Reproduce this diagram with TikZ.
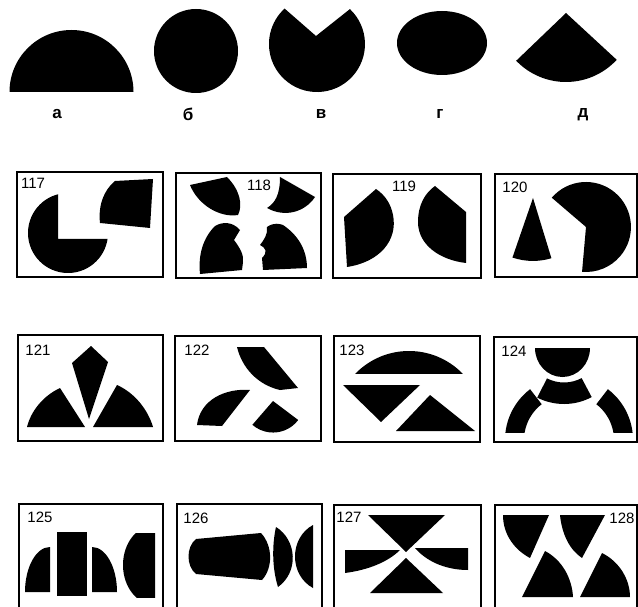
\documentclass[tikz,border=0pt]{standalone}
\usepackage{fontspec}
\setmainfont{Liberation Sans}
\begin{document}
\begin{tikzpicture}[x=1pt,y=-1pt,
  frame/.style={line width=1.9pt},
  num/.style={inner sep=0pt,font=\fontsize{15}{15}\selectfont},
  letter/.style={inner sep=0pt,font=\bfseries\fontsize{17}{17}\selectfont}]
\clip (0,0) rectangle (638,607);
% ---------- top row ----------
\fill (9.5,92) arc[start angle=180,end angle=360,radius=62] -- cycle;
\fill (196,51) circle[radius=42];
\fill (316,36) -- (349.9,9.1) arc[start angle=313.3,end angle=587.6,radius=48] -- cycle;
\fill (442,43) ellipse[x radius=45,y radius=32];
\fill (566,13) -- (616.7,59.8) arc[start angle=42.7,end angle=136.2,radius=69] -- cycle;
\node[letter] (la) at (57,114) {а};
\node[letter] (lb) at (188,114) {б};
\node[letter] (lv) at (321,114) {в};
\node[letter] (lg) at (440,114) {г};
\node[letter] (ld) at (583,115) {д};
% ---------- frames ----------
\draw[frame] (17,172) rectangle (163,277);
\draw[frame] (176,173) rectangle (321,278);
\draw[frame] (333,174) rectangle (481,278);
\draw[frame] (495,174) rectangle (637,277);
\draw[frame] (18,335) rectangle (163,441);
\draw[frame] (175,336) rectangle (321,441);
\draw[frame] (334,336) rectangle (480,442);
\draw[frame] (494,337) rectangle (637,442);
\draw[frame] (19,504) rectangle (163,620);
\draw[frame] (177,504) rectangle (322,620);
\draw[frame] (334,505) rectangle (481,620);
\draw[frame] (495,505) rectangle (637,620);
% ---------- 117 ----------
\node[num] (n117) at (33,183) {117};
\begin{scope}
  \clip (20,180) -- (58,180) -- (58,239) -- (120,239) -- (120,280) -- (20,280) -- cycle;
  \fill (68,233) circle[radius=40];
\end{scope}
\fill (115,181) -- (153,179) -- (150,228) -- (100,223) .. controls (98,205) and (104,190) .. (115,181) -- cycle;
% ---------- 118 ----------
\node[num] (n118) at (259,185) {118};
\fill (190,185) -- (227,177) .. controls (240,190) and (243,205) .. (238,215) .. controls (220,218) and (198,205) .. (190,185) -- cycle;
\fill (280,177) -- (315,197) .. controls (305,212) and (285,218) .. (267,208) .. controls (275,203) and (280,195) .. (280,177) -- cycle;
\fill (215,226) .. controls (222,222) and (232,221) .. (240,230) -- (234,240) .. controls (240,248) and (244,255) .. (243,262) -- (242,270) -- (200,274) .. controls (198,255) and (203,238) .. (215,226) -- cycle;
\fill (267,227) .. controls (274,222) and (280,224) .. (283,225) .. controls (298,235) and (307,250) .. (307,268) -- (263,270) -- (262,258) .. controls (268,252) and (266,248) .. (260,245) .. controls (264,240) and (268,234) .. (267,227) -- cycle;
% ---------- 119 ----------
\node[num] (n119) at (404,186) {119};
\fill (376,189) -- (344,217) -- (347,267) .. controls (380,262) and (398,240) .. (393,215) .. controls (391,204) and (385,195) .. (376,189) -- cycle;
\fill (435,186) -- (466,212) -- (466,263) .. controls (440,260) and (418,245) .. (418,222) .. controls (418,205) and (425,193) .. (435,186) -- cycle;
% ---------- 120 ----------
\node[num] (n120) at (515,187) {120};
\fill (533,198) -- (551.4,258.2) arc[start angle=73,end angle=109,radius=63] -- cycle;
\fill (586,227) -- (551.8,197.7) arc[start angle=220.6,end angle=455,radius=45] -- cycle;
% ---------- 121 ----------
\node[num] (n121) at (38,350) {121};
\fill (91,346) -- (108,362) -- (89,419) -- (72,363) -- cycle;
\fill (27,427) .. controls (31,411) and (43,396) .. (60,388) -- (85,427) -- cycle;
\fill (93,427) -- (117,385) .. controls (135,393) and (148,410) .. (153,427) -- cycle;
% ---------- 122 ----------
\node[num] (n122) at (197,350) {122};
\fill (237,347) -- (264,347) -- (298,388) -- (280,390) .. controls (258,385) and (242,368) .. (237,347) -- cycle;
\fill (250,390) .. controls (225,388) and (200,400) .. (197,425) -- (222,426) -- cycle;
\fill (273,401) -- (298.2,420) arc[start angle=37,end angle=131,radius=31.5] -- cycle;
% ---------- 123 ----------
\node[num] (n123) at (352,350) {123};
\begin{scope}
  \clip (340,340) rectangle (478,373);
  \fill (409,425.8) circle[radius=74.8];
\end{scope}
\fill (343,385) -- (420,385) -- (381,422) -- cycle;
\fill (430,395) -- (475,431) -- (396,431) -- cycle;
% ---------- 124 ----------
\node[num] (n124) at (514,351) {124};
\fill (535,348) arc[start angle=180,end angle=0,x radius=27.5,y radius=29] -- cycle;
\fill (591.7,397.1) arc[start angle=62,end angle=117,radius=59] -- (547,378.4) arc[start angle=117,end angle=62,radius=37.5] -- cycle;
\begin{scope}
  \clip (495,337) rectangle (637,432);
  \fill (530.1,389.2) arc[start angle=232.6,end angle=170,radius=64] -- (524.7,447.8) arc[start angle=170,end angle=232.6,radius=45] -- cycle;
  \fill (607.9,389.2) arc[start angle=307.4,end angle=370,radius=64] -- (613.3,447.8) arc[start angle=370,end angle=307.4,radius=45] -- cycle;
\end{scope}
% ---------- 125 ----------
\node[num] (n125) at (40,517) {125};
\fill (50,592) -- (25,592) arc[start angle=180,end angle=270,x radius=25,y radius=45] -- cycle;
\fill (57,532) rectangle (87,596);
\fill (92,592) -- (92,547) arc[start angle=270,end angle=360,x radius=25,y radius=45] -- cycle;
\begin{scope}
  \clip (110,533) rectangle (155,597);
  \fill (155,565) ellipse[x radius=32,y radius=40];
\end{scope}
% ---------- 126 ----------
\node[num] (n126) at (196,518) {126};
\fill (196,539) -- (261,533) .. controls (273,546) and (273,568) .. (262,580) -- (196,574) .. controls (186,566) and (186,547) .. (196,539) -- cycle;
\fill (276,527) .. controls (297,540) and (299,572) .. (278,587) .. controls (272,568) and (272,545) .. (276,527) -- cycle;
\fill (313,525) -- (313,588) .. controls (289,575) and (289,538) .. (313,525) -- cycle;
% ---------- 127 ----------
\node[num] (n127) at (349,517) {127};
\fill (368,515) -- (445,515) -- (406,552) -- cycle;
\fill (406,558) -- (443,593) -- (370,593) -- cycle;
\fill (345,550) -- (400,550) .. controls (388,562) and (368,570) .. (345,573) -- cycle;
\fill (415,548) -- (468,548) -- (468,570) .. controls (448,570) and (428,563) .. (415,548) -- cycle;
% ---------- 128 ----------
\node[num] (n128) at (622,518) {128};
\fill (503,515) -- (549,515) -- (530,558) .. controls (515,550) and (503,535) .. (503,515) -- cycle;
\fill (560,515) -- (605,515) -- (582,558) .. controls (570,550) and (562,535) .. (560,515) -- cycle;
\fill (545,551) .. controls (562,560) and (572,578) .. (573,597) -- (522,597) -- cycle;
\fill (602,553) .. controls (620,562) and (630,580) .. (630,597) -- (580,597) -- cycle;
\end{tikzpicture}
\end{document}
